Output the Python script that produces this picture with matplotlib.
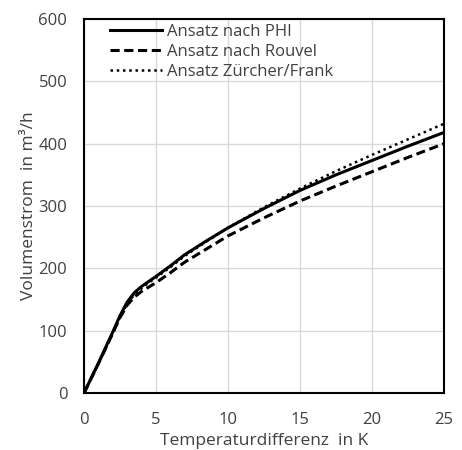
import numpy as np
import matplotlib
matplotlib.use("Agg")
import matplotlib.pyplot as plt

plt.rcParams['font.family'] = ['Open Sans', 'DejaVu Sans']

# temperature difference in K
dT = [0, 1, 2, 2.5, 3, 3.5, 4, 4.5, 5, 6, 7, 8.5, 10, 12.5, 15, 17.5, 20, 22.5, 25]
# volume flow in m3/h
v_phi = [0, 48, 98, 124, 146, 161, 171, 179, 187, 204, 222, 244, 265, 296, 325, 350, 373, 396, 418]
v_rouvel = [0, 47, 96, 121, 141, 154, 163, 170, 177, 193, 210, 231, 252, 281, 308, 332, 355, 378, 400]
v_zuercher = [0, 47, 96, 122, 143, 158, 168, 177, 185, 202, 220, 243, 265, 298, 328, 356, 382, 407, 432]

txt_col = '#404040'

fig = plt.figure(figsize=(4.62, 4.5), dpi=100)
ax = fig.add_axes([84/462, 57/450, 360/462, 374/450])

ax.plot(dT, v_phi, color='black', lw=2.2, label='Ansatz nach PHI')
ax.plot(dT, v_rouvel, color='black', lw=2.2, ls=(0, (3, 1.5)), label='Ansatz nach Rouvel')
ax.plot(dT, v_zuercher, color='black', lw=1.8, ls=(0, (1, 1.5)), label='Ansatz Zürcher/Frank')

ax.set_xlim(0, 25)
ax.set_ylim(0, 600)
ax.set_xticks(np.arange(0, 26, 5))
ax.set_yticks(np.arange(0, 601, 100))
ax.grid(True, color='#d9d9d9', lw=1)
ax.set_axisbelow(True)
for s in ax.spines.values():
    s.set_color('black')
    s.set_linewidth(1.5)
ax.tick_params(axis='y', length=0, labelsize=12, colors=txt_col, pad=12)
ax.tick_params(axis='x', length=0, labelsize=12, colors=txt_col, pad=14)

ax.set_xlabel('Temperaturdifferenz  in K', fontsize=12.5, color=txt_col, labelpad=3)
ax.set_ylabel('Volumenstrom  in m³/h', fontsize=12.5, color=txt_col, labelpad=1)

leg = ax.legend(loc='upper left', frameon=False, fontsize=12, handlelength=3.1,
                handletextpad=0.3, labelspacing=0.25, borderaxespad=0.0,
                bbox_to_anchor=(0.055, 1.005))
for t in leg.get_texts():
    t.set_color(txt_col)

fig.savefig('out.png', dpi=100)
